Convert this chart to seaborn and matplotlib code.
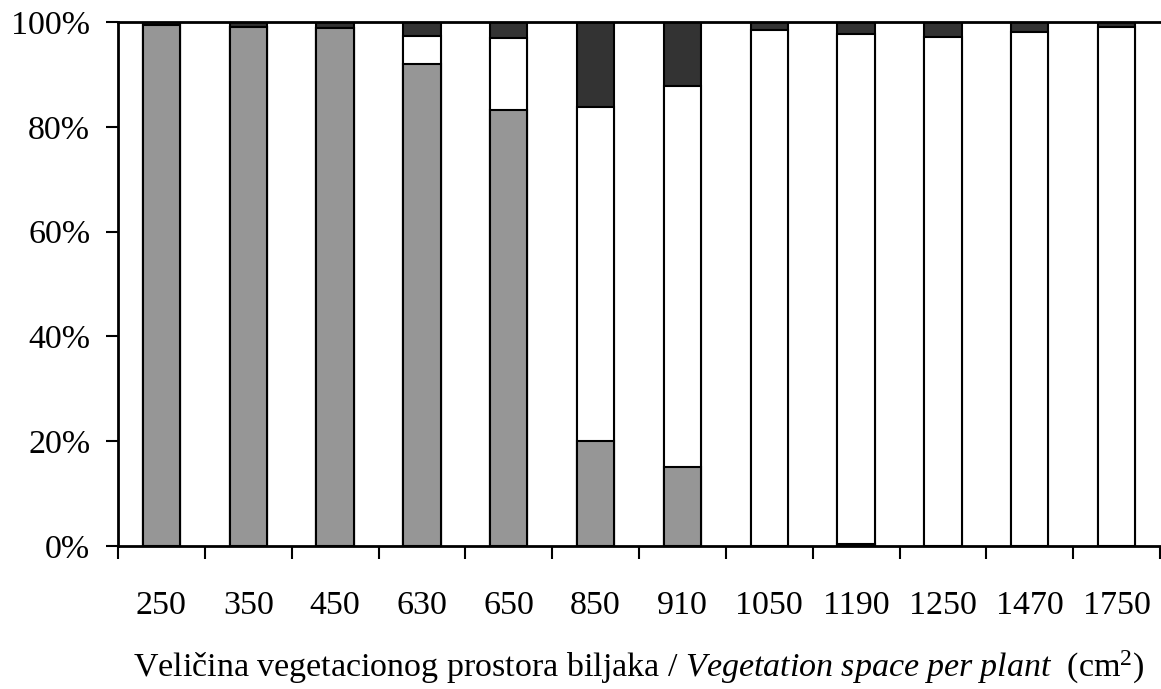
import matplotlib
matplotlib.use("Agg")
import matplotlib.pyplot as plt
import seaborn as sns
import pandas as pd
import numpy as np

categories = ["250", "350", "450", "630", "650", "850", "910", "1050", "1190", "1250", "1470", "1750"]
gray_vals = [99.5, 99.0, 98.9, 92.0, 83.2, 20.0, 15.1, 0.0, 0.4, 0.0, 0.0, 0.0]
white_vals = [0.0, 0.0, 0.0, 5.3, 13.8, 63.8, 72.6, 98.5, 97.3, 97.2, 98.1, 99.1]
dark_vals = [100 - g - w for g, w in zip(gray_vals, white_vals)]

sns.set_theme(style="white")
plt.rcParams['font.family'] = ['Liberation Serif', 'DejaVu Serif']
plt.rcParams['mathtext.fontset'] = 'custom'
plt.rcParams['mathtext.rm'] = 'Liberation Serif'
plt.rcParams['mathtext.it'] = 'Liberation Serif:italic'

df = pd.DataFrame({"cat": categories, "gray": gray_vals, "white": white_vals, "dark": dark_vals})
df["top"] = df["gray"] + df["white"] + df["dark"]
df["mid"] = df["gray"] + df["white"]

fig = plt.figure(figsize=(11.61, 6.89), dpi=100)
ax = fig.add_axes([118/1161, 1 - 546/689, (1160 - 118)/1161, (546 - 22)/689])

w = 0.43
sns.barplot(data=df, x="cat", y="top", color="#333333", edgecolor="black", linewidth=1.5, width=w, saturation=1, ax=ax)
sns.barplot(data=df, x="cat", y="mid", color="white", edgecolor="black", linewidth=1.5, width=w, saturation=1, ax=ax)
sns.barplot(data=df[df["gray"] > 0], x="cat", y="gray", color="#969696", edgecolor="black", linewidth=1.5, width=w, saturation=1, ax=ax, order=categories)

ax.set_xlim(-0.5, 11.5)
ax.set_ylim(0, 100)
ax.set_yticks([0, 20, 40, 60, 80, 100])
ax.set_yticklabels(["0%", "20%", "40%", "60%", "80%", "100%"])
ax.set_xticks(np.arange(12))
ax.set_xticklabels(categories)
ax.set_xticks(np.arange(-0.5, 11.6, 1.0), minor=True)
ax.tick_params(axis="x", which="major", length=0, pad=32, labelsize=24.5, colors="black")
ax.tick_params(axis="x", which="minor", length=9, width=1.5, direction="out", bottom=True, color="black")
ax.tick_params(axis="y", which="major", length=9, width=1.5, direction="out", left=True, pad=11, labelsize=24.5, colors="black")

for s in ["left", "bottom", "top"]:
    ax.spines[s].set_visible(True)
    ax.spines[s].set_color("black")
    ax.spines[s].set_linewidth(2)
ax.spines["right"].set_visible(False)

ax.set_ylabel("")
ax.set_xlabel(r"Veličina vegetacionog prostora biljaka / $\mathit{Vegetation\ space\ per\ plant}$  (cm$^2$)",
              fontsize=24.5, labelpad=20, color="black")

fig.savefig("out.png", dpi=100)
